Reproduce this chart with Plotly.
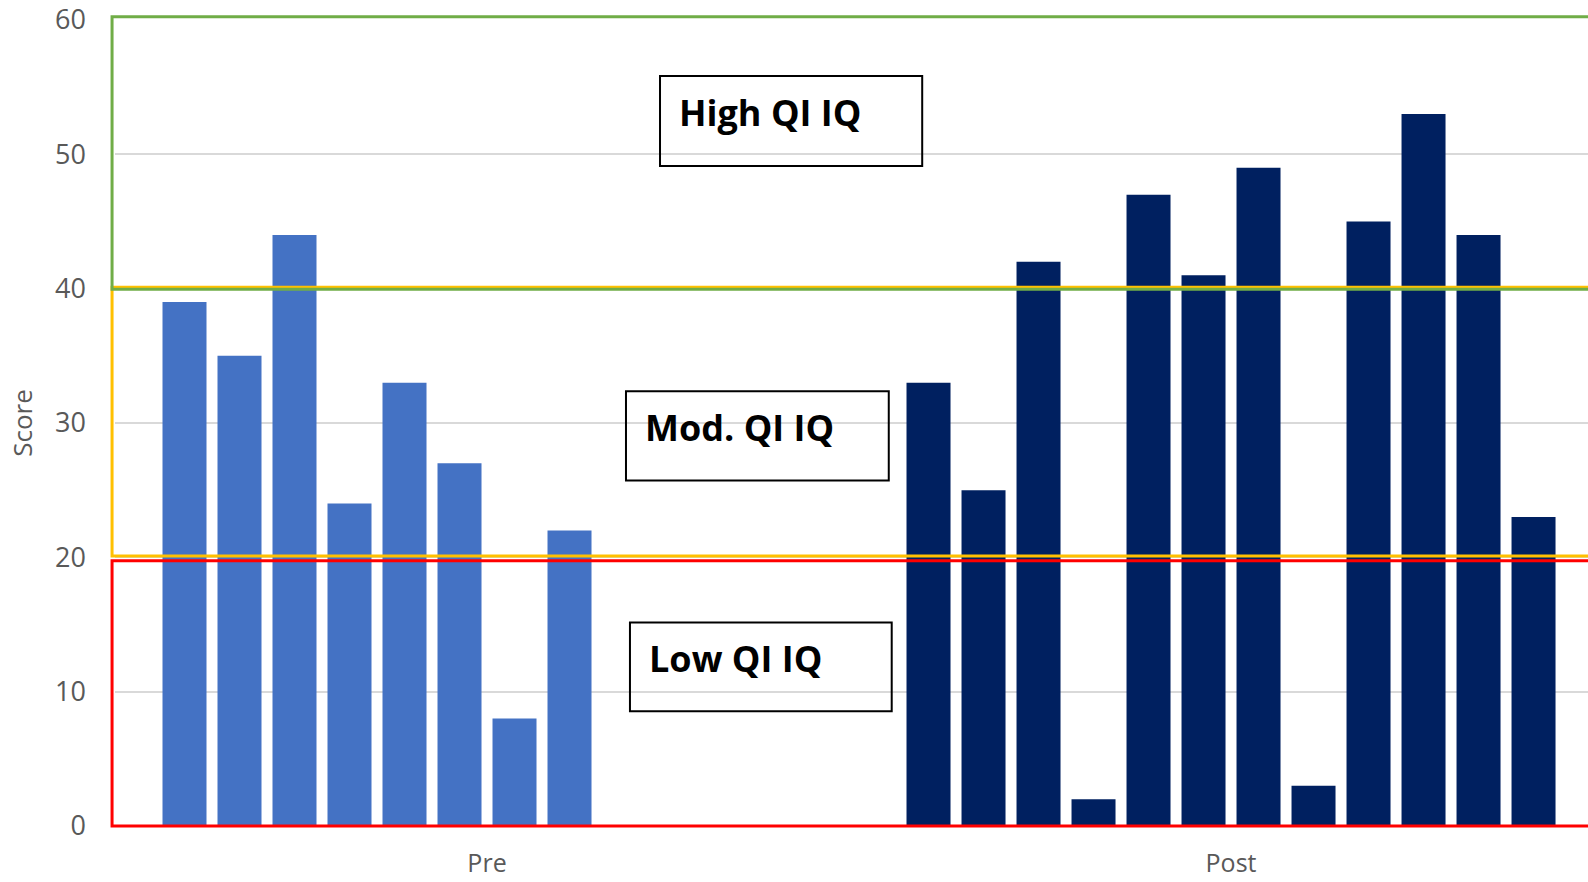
import plotly.graph_objects as go

categories = ["Pre", "Post"]
pre_scores = [39, 35, 44, 24, 33, 27, 8, 22]
post_scores = [33, 25, 42, 2, 47, 41, 49, 3, 45, 53, 44, 23]
zone_labels = ["High QI IQ", "Mod. QI IQ", "Low QI IQ"]
y_ticks = [0, 10, 20, 30, 40, 50, 60]
Y_MAX = 60

PRE_COLOR = "#4472C4"
POST_COLOR = "#002060"
n_series = max(len(pre_scores), len(post_scores))

fig = go.Figure()
for i in range(n_series):
    pv = pre_scores[i] if i < len(pre_scores) else None
    qv = post_scores[i] if i < len(post_scores) else None
    fig.add_trace(go.Bar(
        x=categories, y=[pv, qv],
        marker=dict(color=[PRE_COLOR, POST_COLOR], line=dict(width=0)),
        showlegend=False, hoverinfo="y",
    ))


def py(v):
    return v / Y_MAX


shapes = []
# zone rectangles (drawn above bars)
shapes.append(dict(type="rect", xref="paper", yref="paper", x0=-0.002, x1=1.05, y0=py(20.1), y1=py(40.1),
                   line=dict(color="#FFC000", width=3), layer="above"))
shapes.append(dict(type="rect", xref="paper", yref="paper", x0=-0.002, x1=1.05, y0=py(39.95), y1=py(60.25),
                   line=dict(color="#70AD47", width=3), layer="above"))
shapes.append(dict(type="rect", xref="paper", yref="paper", x0=-0.002, x1=1.05, y0=py(0.0), y1=py(19.75),
                   line=dict(color="#FF0000", width=3), layer="above"))

# label boxes
boxes = [
    (0.370, 0.548, 49.13, 55.83, 0.3813, 53.15),
    (0.3469, 0.5253, 25.72, 32.37, 0.3584, 29.7),
    (0.3496, 0.5273, 8.55, 15.15, 0.3612, 12.45),
]
annotations = []
for (x0, x1, y0, y1, tx, ty), label in zip(boxes, zone_labels):
    shapes.append(dict(type="rect", xref="paper", yref="y", x0=x0, x1=x1, y0=y0, y1=y1,
                       line=dict(color="#000000", width=2), fillcolor="rgba(255,255,255,0)",
                       layer="above"))
    annotations.append(dict(text="<b>" + label + "</b>", xref="paper", yref="y", x=tx, y=ty,
                            xanchor="left", yanchor="middle", showarrow=False,
                            font=dict(family="Open Sans", size=36, color="#000000")))

fig.update_layout(
    width=1588, height=882,
    margin=dict(l=115, r=0, t=20, b=56, autoexpand=False),
    paper_bgcolor="white", plot_bgcolor="white",
    barmode="group", bargap=0.1129, bargroupgap=0.2,
    shapes=shapes, annotations=annotations,
    font=dict(family="Open Sans", color="#595959"),
)
fig.update_yaxes(
    range=[0, Y_MAX], tickvals=y_ticks, showgrid=True, gridcolor="#D9D9D9", gridwidth=1.5,
    zeroline=True, zerolinecolor="#D9D9D9", zerolinewidth=1.5, showline=False, automargin=False,
    tickfont=dict(size=27, color="#595959"), ticks="", ticklabelstandoff=28,
    title=dict(text="Score", font=dict(size=26, color="#595959"), standoff=15),
)
fig.update_xaxes(
    type="category", range=[-0.5, 1.4798], showgrid=False, showline=False, zeroline=False,
    automargin=False,
    tickfont=dict(size=25, color="#595959"), ticks="", ticklabelstandoff=20,
)
fig.write_html(
    "out.html",
    config={"displayModeBar": False},
    post_script="document.body.style.margin='0';document.body.style.overflow='hidden';",
)
